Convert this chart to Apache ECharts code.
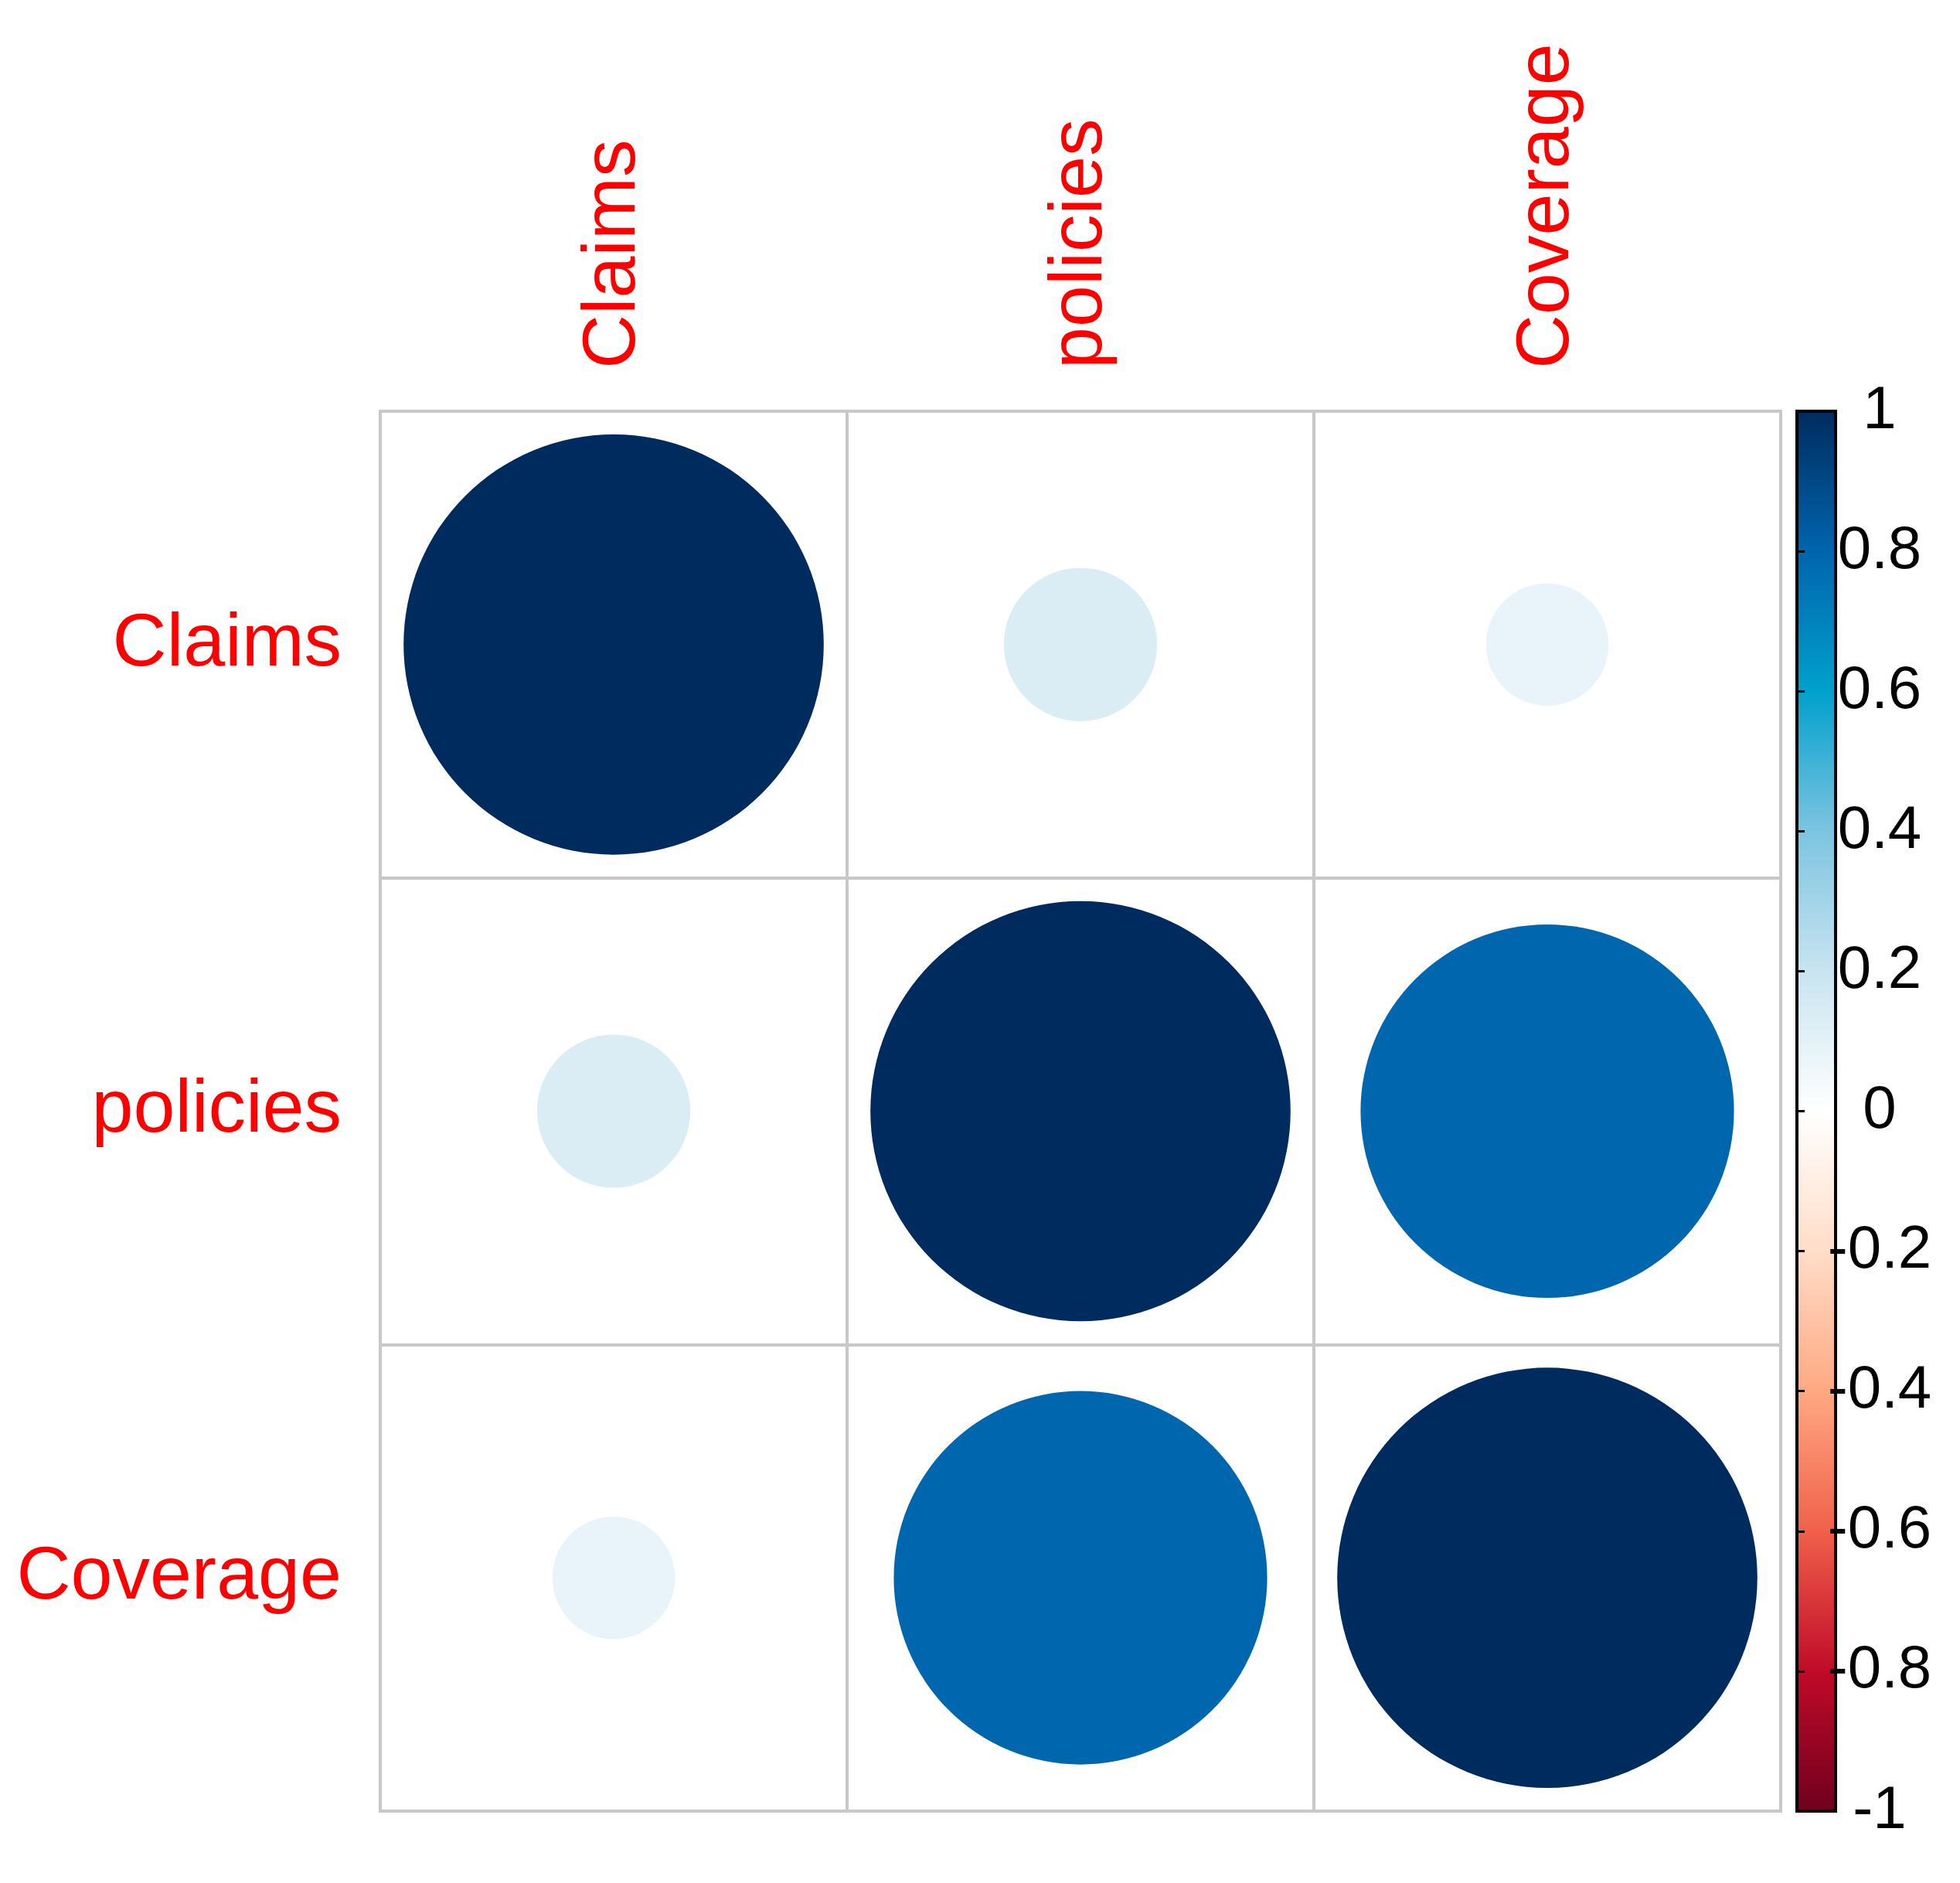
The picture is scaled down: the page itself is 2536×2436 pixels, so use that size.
<!DOCTYPE html>
<html>
<head>
<meta charset="utf-8">
<script src="https://cdn.jsdelivr.net/npm/echarts@6/dist/echarts.min.js"></script>
<style>
html,body{margin:0;padding:0;background:#fff;}
#chart{width:2536px;height:2436px;}
</style>
</head>
<body>
<div id="chart"></div>
<script>
// ---- data ----
const variables = ['Claims', 'policies', 'Coverage'];
const corrClaims   = [1.00, 0.133, 0.085];
const corrPolicies = [0.133, 1.00, 0.79];
const corrCoverage = [0.085, 0.79, 1.00];
const colorbarTicks = [-1, -0.8, -0.6, -0.4, -0.2, 0, 0.2, 0.4, 0.6, 0.8, 1];
const palette = ['#6E001E', '#C00A28', '#F0604A', '#FFA882', '#FFDDC8', '#FFFFFF',
                 '#C8E4F0', '#7CC4E0', '#00A0CC', '#0064AD', '#002B5E'];

// ---- build ----
const rows = [corrClaims, corrPolicies, corrCoverage];
const points = [];
rows.forEach((row, i) => row.forEach((v, j) => points.push([j, i, v])));

const GL = 492, GT = 532, GW = 1812, GH = 1811;
const cell = GW / variables.length;
const FONT = '"Liberation Sans", Arial, sans-serif';

const gradStops = palette.slice().reverse().map((c, k) => ({offset: k / (palette.length - 1), color: c}));

const chart = echarts.init(document.getElementById('chart'), null, {renderer: 'canvas'});
chart.setOption({
  backgroundColor: '#ffffff',
  animation: false,
  grid: [
    {left: GL, top: GT, width: GW, height: GH, show: true, borderColor: '#c8c8c8', borderWidth: 4, backgroundColor: '#fff'},
    {left: 2325, top: GT, width: 50, height: GH, show: true, borderColor: '#000', borderWidth: 4,
     backgroundColor: new echarts.graphic.LinearGradient(0, 0, 0, 1, gradStops)}
  ],
  xAxis: [
    {gridIndex: 0, type: 'category', data: variables, position: 'top',
     axisLine: {show: false}, axisTick: {show: false},
     splitLine: {show: true, lineStyle: {color: '#c8c8c8', width: 4}},
     axisLabel: {rotate: -90, color: '#ff0000', fontSize: 97, fontFamily: FONT, margin: 55}},
    {gridIndex: 1, type: 'value', show: false, min: 0, max: 1}
  ],
  yAxis: [
    {gridIndex: 0, type: 'category', data: variables, inverse: true,
     axisLine: {show: false}, axisTick: {show: false},
     splitLine: {show: true, lineStyle: {color: '#c8c8c8', width: 4}},
     axisLabel: {color: '#ff0000', fontSize: 97, fontFamily: FONT, margin: 50}},
    {gridIndex: 1, type: 'value', min: -1, max: 1, interval: 0.2, position: 'right',
     axisLine: {show: false},
     axisTick: {show: true, length: 10, lineStyle: {color: '#000', width: 3}},
     splitLine: {show: false},
     axisLabel: {color: '#000', fontSize: 78, fontFamily: FONT, margin: 57, align: 'center',
       formatter: v => String(+v.toFixed(1))}}
  ],
  visualMap: {
    show: false, type: 'continuous', dimension: 2, min: -1, max: 1, seriesIndex: 0,
    inRange: {color: palette}
  },
  series: [{
    type: 'scatter', xAxisIndex: 0, yAxisIndex: 0,
    data: points,
    symbol: 'circle',
    symbolSize: v => Math.sqrt(Math.abs(v[2])) * cell * 0.9,
    itemStyle: {opacity: 1}
  }]
});
</script>
</body>
</html>
